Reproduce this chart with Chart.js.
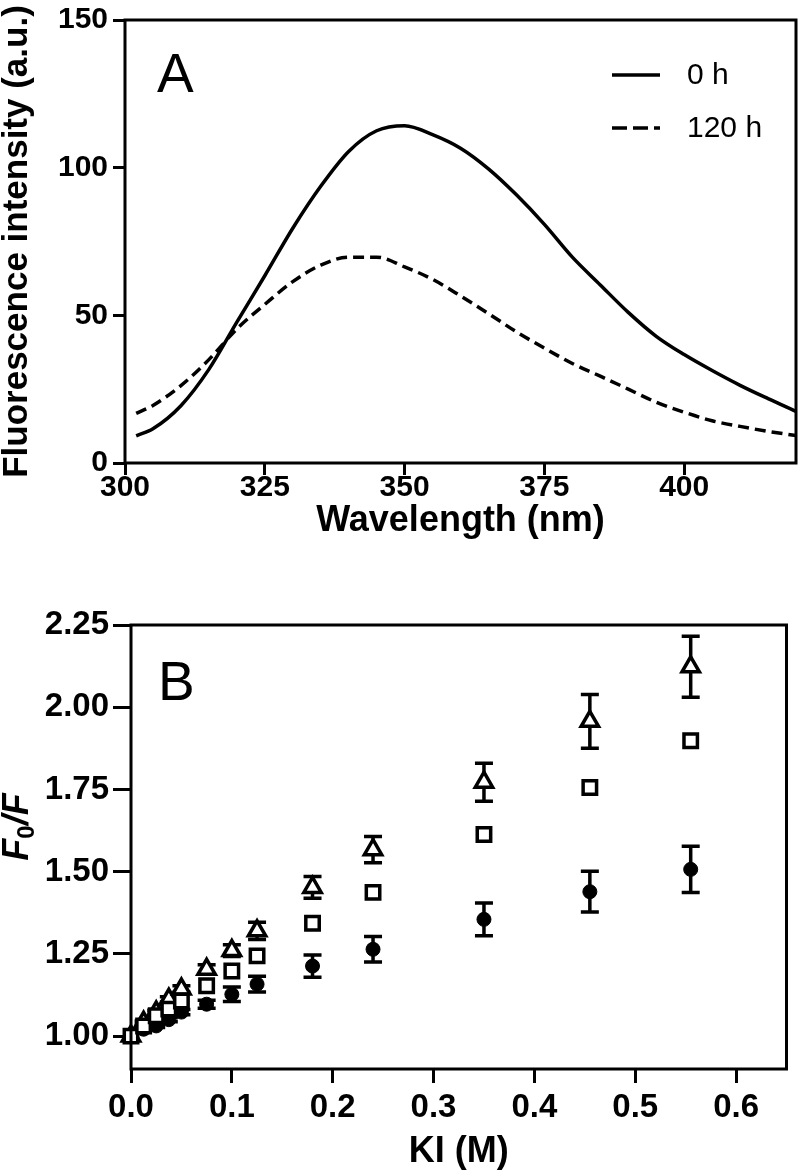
<!DOCTYPE html>
<html>
<head>
<meta charset="utf-8">
<script src="https://cdn.jsdelivr.net/npm/chart.js@4.4.0/dist/chart.umd.min.js"></script>
<style>
  html, body { margin: 0; padding: 0; background: #fff; }
  canvas { display: block; }
</style>
</head>
<body>
<canvas id="chartA" width="800" height="560"></canvas>
<canvas id="chartB" width="800" height="615"></canvas>
<script>
// panel A: emission spectra
const wavelength = [302, 305, 310, 315, 320, 325, 330, 335, 340, 345, 350, 355, 360,
                    365, 370, 375, 380, 385, 390, 395, 400, 405, 410, 415, 420];
const intensity0h = [9.2, 11.6, 19.4, 31.7, 47.7, 63.4, 79.5, 93.7, 105.5, 112.5, 114.2, 111.2, 106.6,
                     99.6, 90.8, 80.8, 69.7, 60.3, 51.0, 42.9, 36.7, 31.3, 26.3, 21.8, 17.5];
const intensity120h = [16.8, 19.5, 26.2, 35.0, 45.4, 53.7, 61.4, 67.0, 69.7, 69.7, 66.4, 62.2, 56.6,
                       50.6, 44.4, 38.9, 33.7, 29.4, 25.0, 20.6, 17.2, 14.3, 12.4, 10.7, 9.3];
const spectraLabels = ["0 h", "120 h"];

// panel B: KI quenching (F0/F)
const kiConc = [0, 0.0125, 0.025, 0.0375, 0.05, 0.075, 0.1, 0.125, 0.18, 0.24, 0.35, 0.455, 0.555];
const triangleVals = [1.0, 1.042, 1.073, 1.112, 1.143, 1.203, 1.26, 1.32, 1.452, 1.567, 1.772, 1.957, 2.123];
const triangleErr  = [0, 0.004, 0.006, 0.008, 0.01, 0.014, 0.018, 0.026, 0.033, 0.04, 0.058, 0.082, 0.093];
const squareVals   = [1.0, 1.031, 1.062, 1.082, 1.107, 1.153, 1.198, 1.244, 1.343, 1.437, 1.613, 1.756, 1.898];
const circleVals   = [1.0, 1.021, 1.031, 1.05, 1.073, 1.097, 1.127, 1.158, 1.213, 1.264, 1.355, 1.439, 1.507];
const circleErr    = [0, 0.004, 0.005, 0.006, 0.008, 0.012, 0.022, 0.024, 0.034, 0.039, 0.05, 0.062, 0.07];

const FONT = "'Liberation Sans', Arial, Helvetica, sans-serif";
Chart.defaults.font.family = FONT;
Chart.defaults.color = '#000';

const pairs = (xs, ys) => xs.map((x, i) => ({ x: x, y: ys[i] }));

// box round the plot area
const framePlugin = {
    id: 'frame',
    afterDatasetsDraw(chart) {
        const { ctx, chartArea: a } = chart;
        ctx.save();
        ctx.strokeStyle = '#000';
        ctx.lineWidth = 3;
        ctx.strokeRect(a.left, a.top, a.right - a.left, a.bottom - a.top);
        ctx.restore();
    }
};

const panelLabel = {
    id: 'panelLabel',
    afterDraw(chart, args, opts) {
        const { ctx, chartArea: a } = chart;
        ctx.save();
        ctx.fillStyle = '#000';
        ctx.font = "55px " + FONT;
        ctx.textBaseline = 'alphabetic';
        ctx.fillText(opts.text, a.left + opts.dx, a.top + opts.dy);
        ctx.restore();
    }
};

const lineLegend = {
    id: 'lineLegend',
    afterDraw(chart) {
        const { ctx, chartArea: a } = chart;
        ctx.save();
        chart.data.datasets.forEach((ds, i) => {
            const y = a.top + 55 + i * 53;
            ctx.strokeStyle = '#000';
            ctx.lineWidth = 3.5;
            ctx.setLineDash(i === 0 ? [] : [15, 6]);
            ctx.beginPath();
            ctx.moveTo(a.left + 487, y);
            ctx.lineTo(a.left + 535, y);
            ctx.stroke();
            ctx.setLineDash([]);
            ctx.fillStyle = '#000';
            ctx.font = "30px " + FONT;
            ctx.textBaseline = 'middle';
            ctx.fillText(ds.label, a.left + 562, y + 1);
        });
        ctx.restore();
    }
};

const errorBars = {
    id: 'errorBars',
    beforeDatasetsDraw(chart) {
        const { ctx, scales: { x, y } } = chart;
        ctx.save();
        ctx.strokeStyle = '#000';
        ctx.lineWidth = 3.5;
        chart.data.datasets.forEach(ds => {
            if (!ds.errors) return;
            ds.data.forEach((p, i) => {
                const e = ds.errors[i];
                if (!e) return;
                const px = x.getPixelForValue(p.x);
                const top = y.getPixelForValue(p.y + e);
                const bot = y.getPixelForValue(p.y - e);
                ctx.beginPath();
                ctx.moveTo(px, top); ctx.lineTo(px, bot);
                ctx.moveTo(px - 9, top); ctx.lineTo(px + 9, top);
                ctx.moveTo(px - 9, bot); ctx.lineTo(px + 9, bot);
                ctx.stroke();
            });
        });
        ctx.restore();
    }
};

// F0/F with a subscript, drawn as rotated text
const ratioTitle = {
    id: 'ratioTitle',
    afterDraw(chart) {
        const { ctx, chartArea: a } = chart;
        const big = "italic bold 36px " + FONT;
        const small = "bold 24px " + FONT;
        ctx.save();
        ctx.translate(15, a.top + 202);
        ctx.rotate(-Math.PI / 2);
        ctx.fillStyle = '#000';
        ctx.textBaseline = 'alphabetic';
        ctx.font = big;
        const wF = ctx.measureText('F').width;
        const wRest = ctx.measureText('/F').width;
        ctx.font = small;
        const w0 = ctx.measureText('0').width;
        let x = -(wF + w0 + wRest) / 2;
        ctx.font = big;
        ctx.fillText('F', x, 13);
        x += wF;
        ctx.font = small;
        ctx.fillText('0', x, 19);
        x += w0;
        ctx.font = big;
        ctx.fillText('/F', x, 13);
        ctx.restore();
    }
};

const tickGrid = len => ({
    display: true,
    drawOnChartArea: false,
    drawTicks: true,
    tickLength: len,
    lineWidth: 3,
    color: '#000'
});

const chartA = new Chart(document.getElementById('chartA'), {
    type: 'line',
    data: {
        datasets: [
            {
                label: spectraLabels[0],
                data: pairs(wavelength, intensity0h),
                borderColor: '#000',
                borderWidth: 3.5,
                pointRadius: 0,
                cubicInterpolationMode: 'monotone',
                fill: false
            },
            {
                label: spectraLabels[1],
                data: pairs(wavelength, intensity120h),
                borderColor: '#000',
                borderWidth: 3.5,
                borderDash: [11, 6],
                pointRadius: 0,
                cubicInterpolationMode: 'monotone',
                fill: false
            }
        ]
    },
    options: {
        responsive: false,
        animation: false,
        events: [],
        layout: { padding: { left: 0, right: 4, top: 18, bottom: 0 } },
        plugins: {
            legend: { display: false },
            tooltip: { enabled: false },
            panelLabel: { text: 'A', dx: 32, dy: 72 }
        },
        scales: {
            x: {
                type: 'linear',
                min: 300, max: 420,
                border: { display: false },
                grid: tickGrid(12),
                ticks: { stepSize: 25, includeBounds: false, padding: -2,
                         font: { size: 30, weight: 'bold', lineHeight: 1 } },
                title: { display: true, text: 'Wavelength (nm)', padding: { bottom: 21, top: 0 },
                         font: { size: 36, weight: 'bold', lineHeight: 1 } },
                afterFit: s => { s.height = 97; }
            },
            y: {
                min: 0, max: 150,
                border: { display: false },
                grid: tickGrid(12),
                ticks: { stepSize: 50, padding: 5,
                         font: { size: 30, weight: 'bold', lineHeight: 1 } },
                title: { display: true, text: 'Fluorescence intensity (a.u.)', padding: 0,
                         font: { size: 35, weight: 'bold', lineHeight: 1 } },
                afterFit: s => { s.width = 125; }
            }
        }
    },
    plugins: [framePlugin, panelLabel, lineLegend]
});

const chartB = new Chart(document.getElementById('chartB'), {
    type: 'scatter',
    data: {
        datasets: [
            {
                label: 'squares',
                data: pairs(kiConc, squareVals),
                pointStyle: 'rect',
                pointRadius: 9.5,
                pointBorderWidth: 3.5,
                pointBackgroundColor: '#fff',
                pointBorderColor: '#000',
                clip: false,
                order: 0
            },
            {
                label: 'circles',
                data: pairs(kiConc, circleVals),
                errors: circleErr,
                pointStyle: 'circle',
                pointRadius: 7,
                pointBorderWidth: 1,
                pointBackgroundColor: '#000',
                pointBorderColor: '#000',
                clip: false,
                order: 1
            },
            {
                label: 'triangles',
                data: pairs(kiConc, triangleVals),
                errors: triangleErr,
                pointStyle: 'triangle',
                pointRadius: 10,
                pointBorderWidth: 3.5,
                pointBackgroundColor: '#fff',
                pointBorderColor: '#000',
                clip: false,
                order: 2
            }
        ]
    },
    options: {
        responsive: false,
        animation: false,
        events: [],
        layout: { padding: { left: 0, right: 3, top: 65, bottom: 0 } },
        plugins: {
            legend: { display: false },
            tooltip: { enabled: false },
            panelLabel: { text: 'B', dx: 27, dy: 75 }
        },
        scales: {
            x: {
                type: 'linear',
                min: 0, max: 0.65,
                border: { display: false },
                grid: tickGrid(14),
                ticks: { stepSize: 0.1, includeBounds: false, padding: 8,
                         callback: v => v.toFixed(1),
                         font: { size: 33, weight: 'bold', lineHeight: 1 } },
                title: { display: true, text: 'KI (M)', padding: { bottom: 5, top: 0 },
                         font: { size: 36, weight: 'bold', lineHeight: 1 } },
                afterFit: s => { s.height = 106; }
            },
            y: {
                min: 0.9, max: 2.25,
                border: { display: false },
                grid: tickGrid(18),
                ticks: { stepSize: 0.25, includeBounds: false, padding: 4,
                         callback: v => v.toFixed(2),
                         font: { size: 33, weight: 'bold', lineHeight: 1 } },
                afterFit: s => { s.width = 131; }
            }
        }
    },
    plugins: [errorBars, framePlugin, panelLabel, ratioTitle]
});
</script>
</body>
</html>
